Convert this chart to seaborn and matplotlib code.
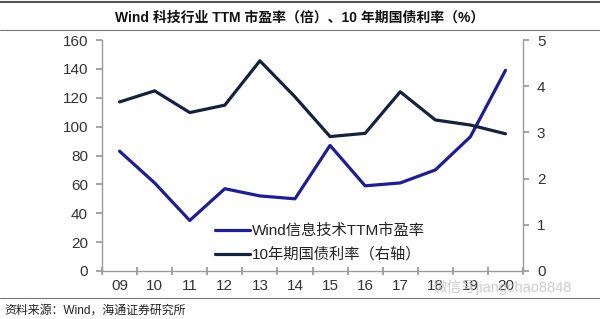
import matplotlib
matplotlib.use("Agg")
import matplotlib.pyplot as plt
import seaborn as sns
import pandas as pd

years = ["09", "10", "11", "12", "13", "14", "15", "16", "17", "18", "19", "20"]
pe_values = [83, 61, 35, 57, 52, 50, 87, 59, 61, 70, 93, 139]
bond_values = [3.66, 3.90, 3.43, 3.59, 4.55, 3.77, 2.91, 2.98, 3.88, 3.27, 3.16, 2.97]
pe_label = "Wind信息技术TTM市盈率"
bond_label = "10年期国债利率（右轴）"
title = "Wind 科技行业 TTM 市盈率（倍）、10 年期国债利率（%）"
source = "资料来源：Wind，海通证券研究所"
watermark = "微信号jiangchao8848"

sns.set_theme(style="white")
plt.rcParams['font.family'] = ['Liberation Sans', 'Noto Sans CJK SC', 'DejaVu Sans']

df = pd.DataFrame({"idx": range(len(years)), "pe": pe_values, "bond": bond_values})

fig = plt.figure(figsize=(6.0, 3.19), dpi=100)
ax = fig.add_axes([0.17, 0.1505, 0.7017, 0.724])
ax2 = ax.twinx()

pe_color = "#1c1c9c"
bond_color = "#15223f"
sns.lineplot(data=df, x="idx", y="pe", ax=ax, color=pe_color, lw=2.3, label=pe_label, legend=False)
sns.lineplot(data=df, x="idx", y="bond", ax=ax2, color=bond_color, lw=2.3, label=bond_label, legend=False)

ax.set_xlim(-0.5, len(years) - 0.5)
ax.set_ylim(0, 160)
ax2.set_ylim(0, 5)
ax.set_yticks(range(0, 161, 20))
ax2.set_yticks(range(0, 6))
ax.set_xticks([i - 0.5 for i in range(len(years) + 1)])
ax.set_xticklabels([])
ax.set_xticks(range(len(years)), minor=True)
ax.set_xticklabels(years, minor=True)
ax.set_xlabel("")
ax.set_ylabel("")
ax2.set_ylabel("")

spine_c = "#9a9a9a"
for a in (ax, ax2):
    for s in a.spines.values():
        s.set_visible(False)
    a.grid(False)
ax.spines['left'].set_visible(True)
ax.spines['bottom'].set_visible(True)
ax2.spines['right'].set_visible(True)
for s in (ax.spines['left'], ax.spines['bottom'], ax2.spines['right']):
    s.set_color(spine_c)
    s.set_linewidth(1.0)

tick_c = "#333333"
ax.tick_params(axis='y', which='major', direction='out', length=4, color=spine_c, labelsize=11, labelcolor=tick_c, left=True, pad=6)
ax2.tick_params(axis='y', which='major', direction='out', length=4, color=spine_c, labelsize=11, labelcolor=tick_c, right=True, pad=6)
ax.tick_params(axis='x', which='major', direction='inout', length=6, color=spine_c, bottom=True)
ax.tick_params(axis='x', which='minor', length=0, labelsize=11, labelcolor=tick_c, pad=6)

h1, l1 = ax.get_legend_handles_labels()
h2, l2 = ax2.get_legend_handles_labels()
ax2.legend(h1 + h2, l1 + l2, loc='lower left', bbox_to_anchor=(0.235, -0.02), frameon=False,
           fontsize=11, handlelength=2.3, handletextpad=0.15, labelspacing=0.6, labelcolor="#222222")

fig.text(0.5, 0.946, title, ha='center', va='center', fontsize=10, fontweight='bold', color="#111111")
fig.add_artist(plt.Line2D([0, 1], [0.993, 0.993], color="#555555", lw=1.5))
fig.add_artist(plt.Line2D([0, 1], [0.905, 0.905], color="#777777", lw=0.8))
fig.add_artist(plt.Line2D([0, 1], [0.066, 0.066], color="#777777", lw=0.8))
fig.text(0.008, 0.026, source, ha='left', va='center', fontsize=8.6, color="#222222")
fig.text(0.722, 0.099, watermark, ha='left', va='center', fontsize=10.5, color="#c4c4c4", alpha=0.85)

fig.savefig("out.png", dpi=100)
